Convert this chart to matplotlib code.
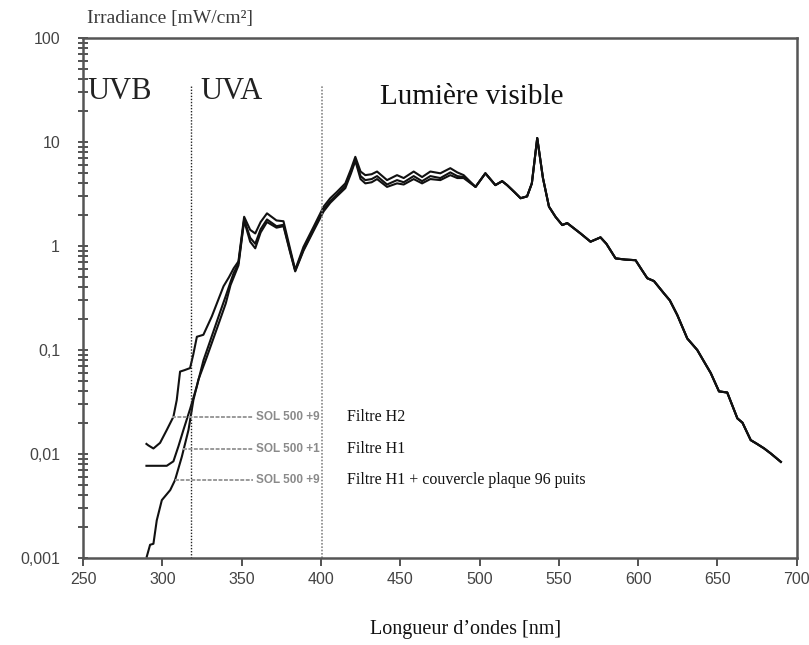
import numpy as np
import matplotlib
matplotlib.use("Agg")
import matplotlib.pyplot as plt
from matplotlib.ticker import FixedLocator, NullFormatter

# --- data (wavelength nm, irradiance mW/cm2) ---
wl_uv_h2 = [290, 291.2, 294.4, 298.6, 302.8, 307, 309.1, 311.2, 314, 317.5, 319.5, 321.8, 325.9, 331.2, 338.6, 342]
irr_uv_h2 = [0.0125, 0.0121, 0.0113, 0.0128, 0.017, 0.0228, 0.033, 0.062, 0.064, 0.067, 0.09, 0.134, 0.14, 0.21, 0.41, 0.5]

wl_uv_h1 = [290, 302.8, 307, 310.2, 313.3, 317.5, 321.8, 326, 330, 335, 340, 343]
irr_uv_h1 = [0.0077, 0.0077, 0.0085, 0.0119, 0.017, 0.027, 0.045, 0.08, 0.12, 0.2, 0.33, 0.45]

wl_uv_h1c = [290.2, 292.3, 294.4, 296.5, 299.7, 305, 308, 312.3, 316.5, 319.6, 322.8, 328, 335, 340, 343]
irr_uv_h1c = [0.00103, 0.00134, 0.00137, 0.0023, 0.0036, 0.0045, 0.0056, 0.0094, 0.017, 0.033, 0.052, 0.085, 0.17, 0.28, 0.42]

wl_mid = [345, 348, 351.6, 355.4, 358.6, 362, 366, 372, 376.4, 380.5, 383.8, 389, 395.4, 401.7,
          405.9, 410, 415.4, 419, 421.7, 425, 428, 432, 435.4, 441.7, 448, 452.2, 458.5, 463.8,
          469, 475.3, 481.6, 486, 490]
irr_mid_h2 = [0.61, 0.71, 1.91, 1.43, 1.32, 1.7, 2.06, 1.76, 1.73, 0.95, 0.59, 0.98, 1.53, 2.39,
              2.88, 3.3, 4.0, 5.5, 7.2, 5.2, 4.8, 4.9, 5.2, 4.3, 4.8, 4.5, 5.2, 4.6,
              5.2, 5.0, 5.6, 5.1, 4.8]
irr_mid_h1 = [0.55, 0.68, 1.8, 1.2, 1.05, 1.45, 1.8, 1.55, 1.6, 0.9, 0.58, 0.92, 1.45, 2.25,
              2.7, 3.1, 3.8, 5.2, 6.8, 4.7, 4.3, 4.4, 4.7, 3.9, 4.3, 4.1, 4.7, 4.2,
              4.7, 4.5, 5.1, 4.7, 4.6]
irr_mid_h1c = [0.5, 0.65, 1.75, 1.1, 0.95, 1.35, 1.7, 1.5, 1.55, 0.88, 0.57, 0.9, 1.4, 2.15,
               2.6, 3.0, 3.6, 5.0, 6.6, 4.4, 4.0, 4.1, 4.4, 3.7, 4.0, 3.9, 4.4, 4.0,
               4.4, 4.3, 4.8, 4.5, 4.5]

wl_tail = [497.5, 503.7, 510, 514.3, 517.4, 522, 525.9, 530, 533, 536.4, 540, 543.8, 548, 552.2,
           555.3, 563.7, 570, 576.3, 580, 585.8, 592, 598.4, 602, 605.8, 610, 616.3, 620, 624.7,
           631, 637.3, 641, 645.8, 651, 656.2, 662.6, 665.8, 671, 675, 679.5, 683.7, 690]
irr_tail = [3.7, 5.0, 3.85, 4.2, 3.85, 3.3, 2.88, 3.0, 4.0, 10.9, 4.5, 2.39, 1.9, 1.59,
            1.66, 1.32, 1.10, 1.21, 1.05, 0.76, 0.74, 0.73, 0.6, 0.49, 0.46, 0.35, 0.3, 0.217,
            0.129, 0.10, 0.08, 0.06, 0.040, 0.039, 0.022, 0.020, 0.0136, 0.0125, 0.0113, 0.0101, 0.0084]

labels = ["Filtre H2", "Filtre H1", "Filtre H1 + couvercle plaque 96 puits"]
sol_labels = ["SOL 500 +9", "SOL 500 +1", "SOL 500 +9"]
leader_y = [0.0227, 0.0112, 0.0056]
leader_x0 = [306, 313, 308]

xticks = [250, 300, 350, 400, 450, 500, 550, 600, 650, 700]
yticks = [0.001, 0.01, 0.1, 1, 10, 100]
ytick_labels = ["0,001", "0,01", "0,1", "1", "10", "100"]

serif = "Liberation Serif"
sans = "Liberation Sans"

fig = plt.figure(figsize=(8.09, 6.45), dpi=100)
ax = fig.add_axes([0.1026, 0.1349, 0.8822, 0.8062])

series = [(wl_uv_h2, irr_uv_h2, irr_mid_h2),
          (wl_uv_h1, irr_uv_h1, irr_mid_h1),
          (wl_uv_h1c, irr_uv_h1c, irr_mid_h1c)]
for wl_uv, irr_uv, irr_mid in series:
    x = list(wl_uv) + wl_mid + wl_tail
    y = list(irr_uv) + irr_mid + irr_tail
    ax.plot(x, y, color="#111111", lw=1.5, solid_joinstyle="round")

ax.set_yscale("log")
ax.set_xlim(250, 700)
ax.set_ylim(0.001, 100)

# region separators
ax.plot([318, 318], [0.001, 35], color="#222222", lw=1, ls=(0, (1, 1.2)))
ax.plot([400.5, 400.5], [0.001, 35], color="#888888", lw=1.2, ls=(0, (1, 1)))

ax.text(253, 26, "UVB", fontsize=22, family=serif, va="baseline", color="#222222")
ax.text(324, 26, "UVA", fontsize=22, family=serif, va="baseline", color="#222222")
ax.text(437.5, 23, "Lumière visible", fontsize=21, family=serif, va="baseline", color="#111111")

# leader lines + labels
for lab, sol, yv, x0 in zip(labels, sol_labels, leader_y, leader_x0):
    ax.plot([x0, 357], [yv, yv], color="#9a9a9a", lw=1.4, ls=(0, (2, 0.8)))
    ax.text(359, yv, sol, fontsize=8.5, family=sans, color="#8a8a8a", weight="bold",
            va="center", ha="left")
    ax.text(416.5, yv, lab, fontsize=11.5, family=serif,
            va="center", ha="left", color="#111111")

ax.yaxis.set_major_locator(FixedLocator(yticks))
ax.set_yticklabels(ytick_labels)
minor = [m * 10.0 ** e for e in range(-3, 2) for m in range(2, 10)]
ax.yaxis.set_minor_locator(FixedLocator(minor))
ax.yaxis.set_minor_formatter(NullFormatter())
ax.set_xticks(xticks)
ax.set_xticklabels(["250", "300", "350", "400", "450", "500", "550", "600", "650", "700"])

ax.tick_params(axis="y", which="both", direction="inout", length=7, width=1.3,
               color="#444444", pad=13, labelsize=11.5, labelcolor="#444444")
ax.tick_params(axis="x", direction="out", length=6, width=1.3, color="#444444",
               pad=4, labelsize=11.5, labelcolor="#444444")
for t in ax.get_xticklabels() + ax.get_yticklabels():
    t.set_family(sans)

for s in ax.spines.values():
    s.set_color("#555555")
    s.set_linewidth(1.8)

fig.text(0.1075, 0.972, "Irradiance [mW/cm²]", fontsize=14, family=serif,
         color="#3a3a3a", va="center", ha="left")
fig.text(0.576, 0.024, "Longueur d\u2019ondes [nm]", fontsize=14.5, family=serif,
         color="#111111", va="center", ha="center")

fig.savefig("out.png", dpi=100)
